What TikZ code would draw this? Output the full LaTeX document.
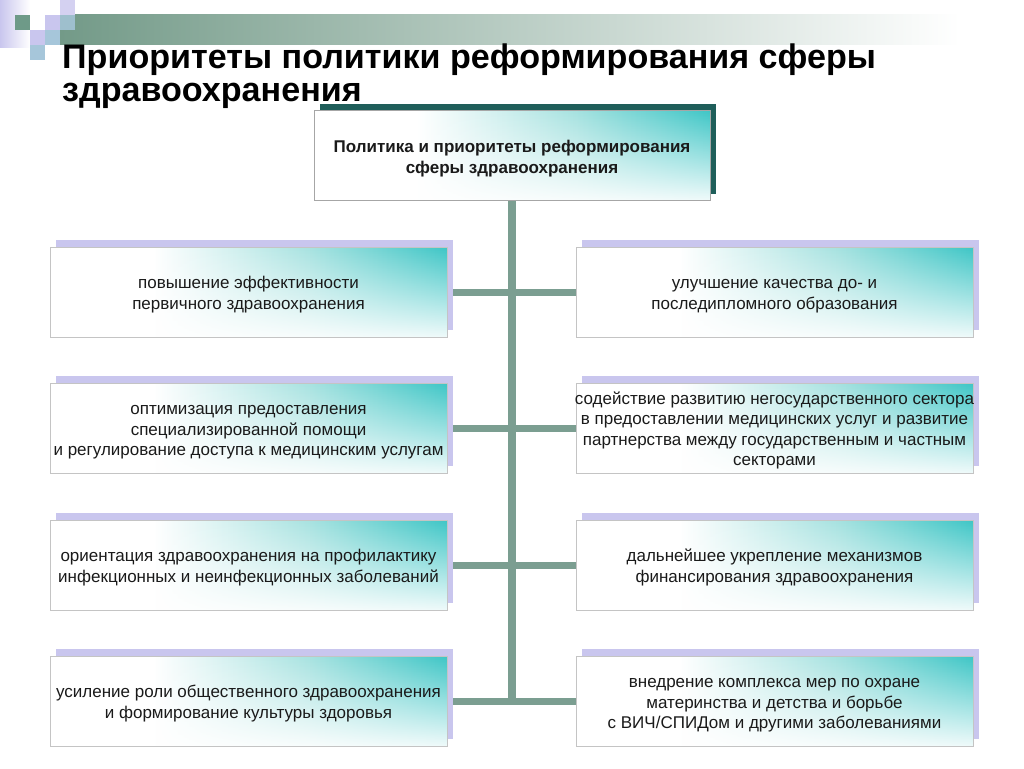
\documentclass[tikz,border=0pt]{standalone}
\usepackage{fontspec}
\setmainfont{Liberation Sans}
\usetikzlibrary{fadings}
\definecolor{lav}{HTML}{C9C6EE}
\definecolor{lblue}{HTML}{A6C6DA}
\definecolor{sqgreen}{HTML}{6E9A88}
\definecolor{bandL}{HTML}{739A88}
\definecolor{topshd}{HTML}{1F5E5A}
\definecolor{tealL}{HTML}{A6E2E0}
\definecolor{tealD}{HTML}{3EC6C6}
\definecolor{conncol}{HTML}{7B9E91}
\definecolor{boxborder}{HTML}{C4C4C4}
\definecolor{txt}{HTML}{1A1A1A}
\newcommand\myup{\rule{0pt}{18pt}}
\newcommand\myupb{\rule{0pt}{19.5pt}}
\pgfdeclarehorizontalshading{boxsh}{100bp}{color(0bp)=(white); color(25bp)=(white); color(38bp)=(white); color(58bp)=(tealL); color(75bp)=(tealD); color(100bp)=(tealD)}
\tikzfading[name=upfade, top color=transparent!100, middle color=transparent!55, bottom color=transparent!8]
\pgfdeclarelayer{back}
\pgfdeclarelayer{bg}
\pgfdeclarelayer{shd}
\pgfsetlayers{back,bg,shd,main}
\begin{document}
\begin{tikzpicture}[x=1pt,y=-1pt,
  boxfill/.style={path picture={
      \shade[shading=boxsh] (path picture bounding box.south west) rectangle (path picture bounding box.north east);
      \fill[white, path fading=upfade] (path picture bounding box.south west) rectangle (path picture bounding box.north east);}},
  sbox/.style={boxfill, draw=boxborder, line width=0.6pt, minimum width=397pt, minimum height=90pt,
      inner sep=0pt, align=center, text=txt, font=\fontsize{17}{20.5}\selectfont},
  topbox/.style={sbox, minimum width=396pt, font=\bfseries\fontsize{17}{20.5}\selectfont, draw=gray!70},
  titlefont/.style={font=\bfseries\fontsize{34.1}{35}\selectfont, text=black, inner sep=0pt},
  trunk/.style={draw=conncol, line width=8pt},
  branch/.style={draw=conncol, line width=7pt}]
\useasboundingbox (0,0) rectangle (1024,768);
\begin{pgfonlayer}{back}
\fill[white] (0,0) rectangle (1024,768);
\end{pgfonlayer}
% decoration
\shade[left color=bandL, right color=white] (60,15) rectangle (960,45);
\shade[left color=lav, right color=white] (0,0) rectangle (30,48);
\fill[sqgreen] (15,15) rectangle (30,30);
\fill[lav!80] (60,0) rectangle (75,15);
\fill[lav] (45,15) rectangle (60,30);
\fill[lblue, opacity=0.85] (60,15) rectangle (75,30);
\fill[lav] (30,30) rectangle (45,45);
\fill[lblue] (45,30) rectangle (60,45);
\fill[lblue] (30,45) rectangle (45,60);
% title
\node[titlefont, anchor=base west] (t1) at (62,68) {Приоритеты политики реформирования сферы};
\node[titlefont, anchor=base west] (t2) at (62,101) {здравоохранения};
% boxes
\node[topbox] (top) at (512,155) {\myupb Политика и приоритеты реформирования\\сферы здравоохранения};
\node[sbox] (L1) at (248.5,292) {\myup повышение эффективности\\первичного здравоохранения};
\node[sbox] (R1) at (774.5,292) {\myup улучшение качества до- и\\последипломного образования};
\node[sbox] (L2) at (248.5,428) {\myup оптимизация предоставления\\специализированной помощи\\и регулирование доступа к медицинским услугам};
\node[sbox] (R2) at (774.5,428) {\myup\makebox[390pt]{содействие развитию негосударственного сектора}\\\makebox[390pt]{в предоставлении медицинских услуг и развитие}\\\makebox[390pt]{партнерства между государственным и частным}\\секторами};
\node[sbox] (L3) at (248.5,565) {\myup ориентация здравоохранения на профилактику\\инфекционных и неинфекционных заболеваний};
\node[sbox] (R3) at (774.5,565) {\myup дальнейшее укрепление механизмов\\финансирования здравоохранения};
\node[sbox] (L4) at (248.5,701) {\myup\makebox[390pt]{усиление роли общественного здравоохранения}\\и формирование культуры здоровья};
\node[sbox] (R4) at (774.5,701) {\myup внедрение комплекса мер по охране\\материнства и детства и борьбе\\с ВИЧ/СПИДом и другими заболеваниями};
% shadows
\begin{pgfonlayer}{shd}
\fill[topshd] ([xshift=6pt,yshift=6pt]top.south west) rectangle ([xshift=6pt,yshift=6pt]top.north east);
\foreach \n in {L1,L2,L3,L4,R1,R2,R3,R4}
  \fill[lav] ([xshift=6pt,yshift=7pt]\n.south west) rectangle ([xshift=6pt,yshift=7pt]\n.north east);
\end{pgfonlayer}
% connectors
\begin{pgfonlayer}{bg}
\draw[trunk] (top.south) -- ([yshift=-3.5pt]top.south |- L4.east);
\foreach \i in {1,2,3,4}
  \draw[branch] (L\i.east) -- (R\i.west);
\end{pgfonlayer}
\end{tikzpicture}
\end{document}
